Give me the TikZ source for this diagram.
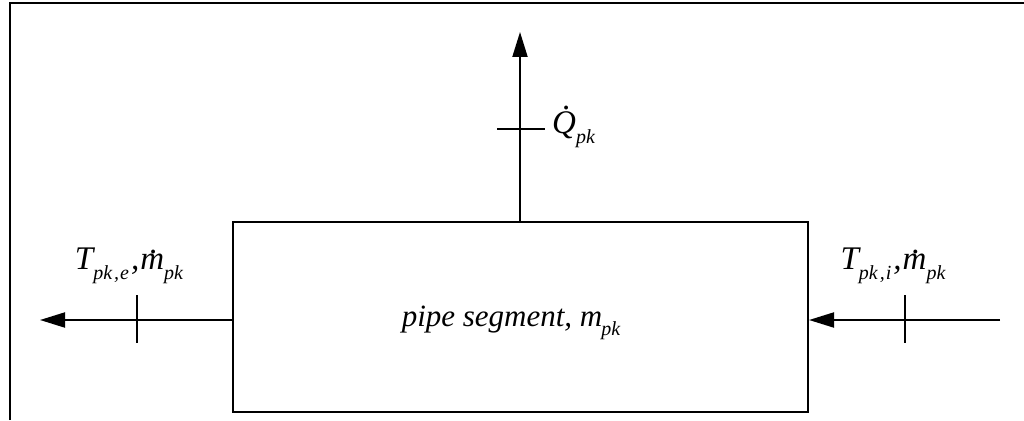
\documentclass[tikz,border=0pt]{standalone}
\usepackage{fontspec}
\setmainfont{Liberation Serif}
\usetikzlibrary{arrows.meta}
\newcommand{\dotm}[3]{\leavevmode\setbox0\hbox{#3}\rlap{\hbox to\wd0{\hss\kern#2\raisebox{#1}{.}\hss}}#3}
\newcommand{\sub}[1]{\raisebox{-0.3em}{\fontsize{20}{20}\selectfont #1}}
\tikzset{
  x=1pt, y=-1pt,
  ln/.style={line width=2pt},
  flow/.style={ln, -{Triangle[length=25pt,width=15pt]}},
  lbl/.style={font=\fontsize{33}{33}\selectfont\itshape, inner sep=0pt},
  box/.style={draw, ln, minimum width=575pt, minimum height=190pt, inner sep=0pt}
}
\begin{document}
\begin{tikzpicture}
\useasboundingbox (0,0) rectangle (1024,420);
\draw[ln] (10,420) -- (10,3) -- (1024,3);
\node[box] (pipe) at (520.5,317) {};
\node[lbl, font=\fontsize{31}{31}\selectfont\itshape] (plbl) at (511,323) {pipe segment, m\kern-1pt\sub{pk}};
\coordinate (lend) at (40,320);
\coordinate (rstart) at (1000,320);
\coordinate (tend) at (520,32);
\draw[flow] (pipe.west |- lend) -- (lend);
\draw[flow] (rstart) -- (pipe.east |- rstart);
\draw[flow] (pipe.north -| tend) -- (tend);
\coordinate (t1a) at (137,295); \coordinate (t1b) at (137,343);
\coordinate (t2a) at (905,295); \coordinate (t2b) at (905,343);
\coordinate (t3a) at (497,129); \coordinate (t3b) at (545,129);
\draw[ln] (t1a) -- (t1b);
\draw[ln] (t2a) -- (t2b);
\draw[ln] (t3a) -- (t3b);
\node[lbl] (lout) at (129,266) {T\sub{pk\kern2pt,\kern1pt e}\kern2pt,\kern1pt\dotm{0.5em}{0.1em}{m}\sub{pk}};
\node[lbl] (lin) at (893,266) {T\sub{pk\kern2pt,\kern1pt i}\kern2pt,\kern1pt\dotm{0.5em}{0.1em}{m}\sub{pk}};
\node[lbl, anchor=west] (lq) at (552,127) {\dotm{0.72em}{0.18em}{Q}\sub{pk}};
\end{tikzpicture}
\end{document}
